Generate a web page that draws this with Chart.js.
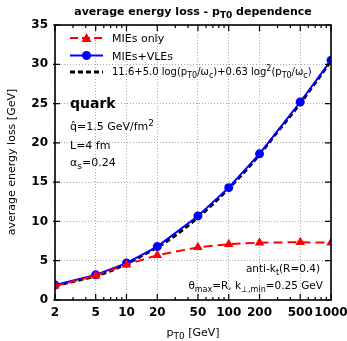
<!DOCTYPE html><html><head><meta charset="utf-8">
<script src="https://cdn.jsdelivr.net/npm/chart.js@4/dist/chart.umd.min.js"></script>
<style>html,body{margin:0;padding:0;background:#fff}#w{width:347px;height:341px}</style></head>
<body><div id="w"><canvas id="c"></canvas></div>
<script>
const ptValues=[2,5,10,20,50,100,200,500,1000];
const miesOnly=[1.8,3.1,4.5,5.7,6.7,7.1,7.3,7.35,7.3];
const miesVles=[1.9,3.2,4.7,6.8,10.7,14.3,18.6,25.2,30.5];
const fitPt=[2,3,5,7,10,15,20,30,50,70,100,150,200,300,500,700,1000];
const fitVals=[1.8,2.35,3.05,3.7,4.6,5.8,6.7,8.2,10.5,12.2,14.2,16.6,18.5,21.4,25.0,27.6,30.4];
const xMajorTicks=[2,5,10,20,50,100,200,500,1000];
const yTicks=[0,5,10,15,20,25,30,35];
const seriesNames=['MIEs only','MIEs+VLEs'];
const FONT='"DejaVu Sans", sans-serif';

function xy(xs,ys){return xs.map((x,i)=>({x:x,y:ys[i]}));}

function drawRich(ctx,parts,x,y,align,size,weight){
  const f=(s)=>(weight||'normal')+' '+s+'px '+FONT;
  const ss=Math.round(size*0.78);
  let w=0;
  parts.forEach(p=>{ctx.font=f(p[1]==='n'?size:ss);w+=ctx.measureText(p[0]).width;});
  let cx = align==='center'? x-w/2 : align==='right'? x-w : x;
  ctx.textBaseline='alphabetic';ctx.textAlign='left';
  parts.forEach(p=>{
    const s=p[1]==='n'?size:ss;
    ctx.font=f(s);
    const dy=p[1]==='sub'?size*0.3:p[1]==='sup'?-size*0.4:0;
    ctx.fillText(p[0],cx,y+dy);
    cx+=ctx.measureText(p[0]).width;
  });
}

const deco={
  id:'deco',
  afterDraw(chart){
    const ctx=chart.ctx, a=chart.chartArea, sx=chart.scales.x, sy=chart.scales.y;
    ctx.save();
    ctx.strokeStyle='#000';ctx.lineWidth=1.2;ctx.setLineDash([]);
    const minors=[];
    for(let d=1;d<=1000;d*=10){for(let m=1;m<10;m++){const v=m*d;if(v>2&&v<1000&&!xMajorTicks.includes(v))minors.push(v);}}
    ctx.beginPath();
    xMajorTicks.forEach(v=>{const px=sx.getPixelForValue(v);ctx.moveTo(px,a.bottom);ctx.lineTo(px,a.bottom-6);ctx.moveTo(px,a.top);ctx.lineTo(px,a.top+6);});
    minors.forEach(v=>{const px=sx.getPixelForValue(v);ctx.moveTo(px,a.bottom);ctx.lineTo(px,a.bottom-3);ctx.moveTo(px,a.top);ctx.lineTo(px,a.top+3);});
    yTicks.forEach(v=>{const py=sy.getPixelForValue(v);ctx.moveTo(a.left-2,py);ctx.lineTo(a.left+5,py);ctx.moveTo(a.right,py);ctx.lineTo(a.right-6,py);});
    ctx.stroke();
    ctx.lineWidth=1.6;
    ctx.strokeRect(a.left,a.top,a.right-a.left,a.bottom-a.top);
    ctx.fillStyle='#000';
    drawRich(ctx,[['average energy loss - p','n'],['T0','sub'],[' dependence','n']],193,15,'center',11,'bold');
    drawRich(ctx,[['p','n'],['T0','sub'],[' [GeV]','n']],193,336,'center',11,'normal');
    ctx.save();ctx.translate(15,162);ctx.rotate(-Math.PI/2);
    drawRich(ctx,[['average energy loss [GeV]','n']],0,0,'center',11,'normal');
    ctx.restore();
    // legend
    const lx0=70,lx1=103,tx=112;
    const ly=[38,55.5,72];
    const cx=(lx0+lx1)/2;
    ctx.strokeStyle='#ff0000';ctx.fillStyle='#ff0000';ctx.lineWidth=2;ctx.setLineDash([8,4]);
    ctx.beginPath();ctx.moveTo(lx0,ly[0]);ctx.lineTo(lx1,ly[0]);ctx.stroke();ctx.setLineDash([]);
    ctx.beginPath();ctx.moveTo(cx,ly[0]-5);ctx.lineTo(cx+5,ly[0]+4);ctx.lineTo(cx-5,ly[0]+4);ctx.closePath();ctx.fill();
    ctx.strokeStyle='#0000ff';ctx.fillStyle='#0000ff';
    ctx.beginPath();ctx.moveTo(lx0,ly[1]);ctx.lineTo(lx1,ly[1]);ctx.stroke();
    ctx.beginPath();ctx.arc(cx,ly[1],4.5,0,Math.PI*2);ctx.fill();
    ctx.strokeStyle='#000';ctx.lineWidth=3;ctx.setLineDash([5,3]);
    ctx.beginPath();ctx.moveTo(lx0,ly[2]);ctx.lineTo(lx1,ly[2]);ctx.stroke();ctx.setLineDash([]);
    ctx.fillStyle='#000';
    drawRich(ctx,[[seriesNames[0],'n']],tx,ly[0]+4,'left',11);
    drawRich(ctx,[[seriesNames[1],'n']],tx,ly[1]+4,'left',11);
    drawRich(ctx,[['11.6+5.0 log(p','n'],['T0','sub'],['/ω','n'],['c','sub'],[')+0.63 log','n'],['2','sup'],['(p','n'],['T0','sub'],['/ω','n'],['c','sub'],[')','n']],tx,ly[2]+3,'left',10);
    drawRich(ctx,[['quark','n']],70,108,'left',14,'bold');
    drawRich(ctx,[['q̂=1.5 GeV/fm','n'],['2','sup']],70,130,'left',11);
    drawRich(ctx,[['L=4 fm','n']],70,149,'left',11);
    drawRich(ctx,[['α','n'],['s','sub'],['=0.24','n']],70,166,'left',11);
    drawRich(ctx,[['anti-k','n'],['t','sub'],['(R=0.4)','n']],320,272,'right',10.5);
    drawRich(ctx,[['θ','n'],['max','sub'],['=R, k','n'],['⊥,min','sub'],['=0.25 GeV','n']],323,289,'right',10.5);
    ctx.restore();
  }
};

new Chart(document.getElementById('c'),{
  type:'line',
  data:{datasets:[
    {label:seriesNames[0],data:xy(ptValues,miesOnly),borderColor:'#ff0000',backgroundColor:'#ff0000',borderWidth:2,borderDash:[9,5],pointStyle:'triangle',pointRadius:5.5,pointBorderWidth:0,tension:0},
    {label:seriesNames[1],data:xy(ptValues,miesVles),borderColor:'#0000ff',backgroundColor:'#0000ff',borderWidth:2,pointStyle:'circle',pointRadius:4.5,pointBorderWidth:0,tension:0},
    {label:'fit',data:xy(fitPt,fitVals),borderColor:'#000',borderWidth:2.8,borderDash:[5,3],pointRadius:0,tension:0.3,cubicInterpolationMode:'monotone'}
  ]},
  options:{
    responsive:true,maintainAspectRatio:false,animation:false,
    layout:{padding:{top:25,right:0,left:0,bottom:0}},
    plugins:{legend:{display:false},title:{display:false},tooltip:{enabled:false}},
    scales:{
      x:{type:'logarithmic',min:2,max:1000,
        afterBuildTicks:s=>{s.ticks=xMajorTicks.map(v=>({value:v}));},
        afterFit:s=>{s.height=41;s.paddingRight=16;s.paddingLeft=0;},
        ticks:{autoSkip:false,maxRotation:0,padding:6,color:'#000',font:{family:FONT,size:12,weight:'bold'},callback:(v)=>String(v)},
        grid:{drawTicks:false,color:'#aaaaaa',lineWidth:1},
        border:{display:false,dash:[1,2]}
      },
      y:{min:0,max:35,
        afterBuildTicks:s=>{s.ticks=yTicks.map(v=>({value:v}));},
        afterFit:s=>{s.width=55;},
        ticks:{padding:7,color:'#000',font:{family:FONT,size:12,weight:'bold'}},
        grid:{drawTicks:false,color:'#aaaaaa',lineWidth:1},
        border:{display:false,dash:[1,2]}
      }
    }
  },
  plugins:[deco]
});
</script></body></html>
